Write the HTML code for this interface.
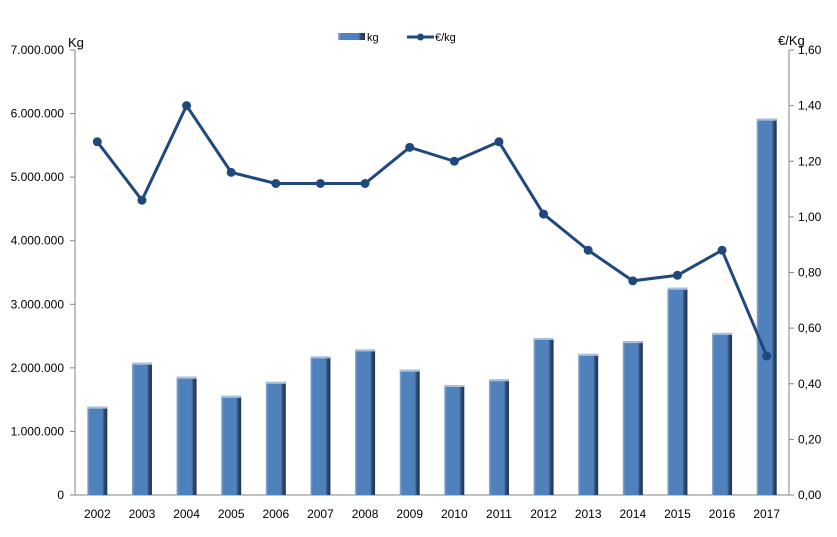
<!DOCTYPE html>
<html><head><meta charset="utf-8"><style>
body{margin:0;background:#fff}
svg{display:block;font-family:"Liberation Sans",sans-serif}
</style></head><body>
<svg id="c" width="837" height="537">
<defs>
<linearGradient id="bg" x1="0" x2="1" y1="0" y2="0">
<stop offset="0" stop-color="#8fa9c9"/><stop offset="0.12" stop-color="#4f81bd"/><stop offset="0.75" stop-color="#4f81bd"/><stop offset="0.85" stop-color="#2e4a70"/><stop offset="1" stop-color="#1e3350"/>
</linearGradient>
</defs>
</svg>
<script>
const categories=["2002","2003","2004","2005","2006","2007","2008","2009","2010","2011","2012","2013","2014","2015","2016","2017"];
const kgValues=[1390000,2080000,1860000,1560000,1780000,2180000,2290000,1970000,1730000,1820000,2470000,2220000,2420000,3260000,2550000,5920000];
const priceValues=[1.27,1.06,1.40,1.16,1.12,1.12,1.12,1.25,1.20,1.27,1.01,0.88,0.77,0.79,0.88,0.50];
const leftTicks=[0,1000000,2000000,3000000,4000000,5000000,6000000,7000000];
const leftTickLabels=["0","1.000.000","2.000.000","3.000.000","4.000.000","5.000.000","6.000.000","7.000.000"];
const rightTicks=[0,0.2,0.4,0.6,0.8,1.0,1.2,1.4,1.6];
const rightTickLabels=["0,00","0,20","0,40","0,60","0,80","1,00","1,20","1,40","1,60"];

const svg=document.getElementById('c');
const NS="http://www.w3.org/2000/svg";
const X0=75,X1=789,Y0=495,Y1=50;
const bw=(X1-X0)/categories.length;
const xc=i=>X0+bw*(i+0.5);
const yL=v=>Y0-(v/7000000)*(Y0-Y1);
const yR=v=>Y0-(v/1.6)*(Y0-Y1);
function mk(t,a,txt){const e=document.createElementNS(NS,t);for(const k in a)e.setAttribute(k,a[k]);if(txt!==undefined)e.textContent=txt;svg.appendChild(e);return e;}

let e;
e=mk('line',{x1:X0,y1:Y1,x2:X0,y2:Y0,stroke:'#868686'});


e=mk('line',{x1:X1,y1:Y1,x2:X1,y2:Y0,stroke:'#868686'});


e=mk('line',{x1:X0,y1:Y0,x2:X1,y2:Y0,stroke:'#868686'});



leftTicks.forEach((v,i)=>{
  const y=yL(v);
  mk('line',{x1:X0-5,y1:y,x2:X0,y2:y,stroke:'#868686'});
  e=mk('text',{x:X0-11,y:y+4,'text-anchor':'end','font-size':'12',fill:'#000'},leftTickLabels[i]);
  
  
});
rightTicks.forEach((v,i)=>{
  const y=yR(v);
  mk('line',{x1:X1,y1:y,x2:X1+5,y2:y,stroke:'#868686'});
  e=mk('text',{x:X1+9,y:y+4,'font-size':'12',fill:'#000'},rightTickLabels[i]);
  
  
});
categories.forEach((c,i)=>{
  e=mk('text',{x:xc(i),y:518,'text-anchor':'middle','font-size':'12',fill:'#000'},c);
  
  
});
kgValues.forEach((v,i)=>{
  const y=yL(v);
  e=mk('rect',{x:xc(i)-10,y:y,width:20,height:Y0-y,fill:'url(#bg)'});
  
  
  mk('rect',{x:xc(i)-10,y:y,width:20,height:2,fill:'#a9c0dd'});
});
const pts=priceValues.map((v,i)=>xc(i)+','+yR(v)).join(' ');
e=mk('polyline',{points:pts,fill:'none',stroke:'#1f497d','stroke-width':3,'stroke-linejoin':'round'});


priceValues.forEach((v,i)=>{
  e=mk('circle',{cx:xc(i),cy:yR(v),r:4.5,fill:'#1f497d'});
  
  
});
e=mk('text',{x:68,y:47,'font-size':'13',fill:'#000'},'Kg');


e=mk('text',{x:778,y:45,'font-size':'13',fill:'#000'},'€/Kg');


e=mk('rect',{x:338,y:33,width:27,height:7,fill:'url(#bg)'});


e=mk('text',{x:367,y:41,'font-size':'11',fill:'#000'},'kg');


mk('line',{x1:407,y1:37,x2:434,y2:37,stroke:'#1f497d','stroke-width':3});
e=mk('circle',{cx:420.5,cy:37,r:3.5,fill:'#1f497d'});


e=mk('text',{x:435,y:41,'font-size':'11',fill:'#000'},'€/kg');


</script>
</body></html>
